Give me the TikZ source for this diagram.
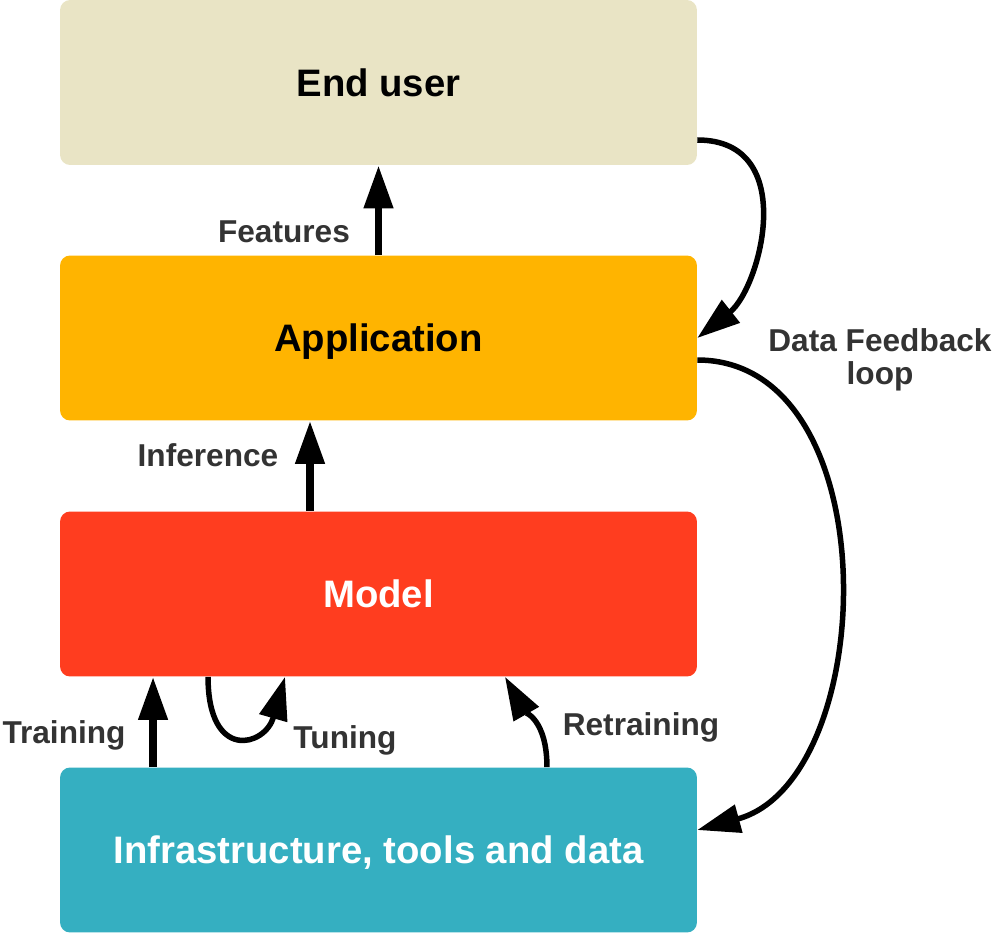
\documentclass[tikz,border=0pt]{standalone}
\usepackage{fontspec}
\setmainfont{Liberation Sans}
\usetikzlibrary{arrows.meta}
\definecolor{cUser}{HTML}{E9E4C5}
\definecolor{cApp}{HTML}{FFB400}
\definecolor{cModel}{HTML}{FF3D1F}
\definecolor{cInfra}{HTML}{35AFC1}
\definecolor{cLabel}{HTML}{333333}
\begin{document}
\begin{tikzpicture}[x=0.02cm,y=-0.02cm,
  layer/.style={rectangle, rounded corners=0.2cm, minimum width=12.74cm, minimum height=3.3cm, inner sep=0pt, text height=15.6pt, text depth=0pt, font=\fontsize{21.8}{24}\selectfont\bfseries, text=black},
  elabel/.style={font=\fontsize{18}{19}\selectfont\bfseries, text=cLabel, inner sep=0pt},
  flow/.style={line width=0.15cm, -{Triangle[length=0.86cm,width=0.56cm]}},
  loopflow/.style={line width=0.11cm, -{Triangle[length=0.86cm,width=0.56cm]}}
]
\useasboundingbox (0,0) rectangle (1000,933);
\node[layer, fill=cUser] (eu) at (378.5,82.5) {End user};
\node[layer, fill=cApp] (app) at (378.5,338) {Application};
\node[layer, fill=cModel, text=white] (mod) at (378.5,594) {Model};
\node[layer, fill=cInfra, text=white] (inf) at (378.5,850) {Infrastructure, tools and data};

\draw[flow] (app.north) -- (eu.south);
\draw[flow] ([xshift=-1.37cm]mod.north) -- ([xshift=-1.37cm]app.south);
\draw[flow] ([xshift=-4.51cm]inf.north) -- ([xshift=-4.51cm]mod.south);
\draw[loopflow] ([xshift=-3.41cm]mod.south) .. controls +(0,-1.7cm) and +(-0.4cm,-1.4cm) .. ([xshift=-1.87cm]mod.south);
\draw[loopflow] ([xshift=3.37cm]inf.north) .. controls +(0,0.95cm) and +(0.4cm,-0.7cm) .. ([xshift=2.53cm]mod.south);
\draw[loopflow] ([yshift=-1.15cm]eu.east) .. controls +(2.06cm,0) and +(1.26cm,1.0cm) .. ([yshift=0cm]app.east);
\draw[loopflow] ([yshift=-0.44cm]app.east) .. controls +(3.86cm,0) and +(3.66cm,1.0cm) .. ([yshift=0.4cm]inf.east);

\node[elabel] (lf) at (284,232) {Features};
\node[elabel] (li) at (208,455) {Inference};
\node[elabel] (lt) at (64,735) {Training};
\node[elabel] (ltu) at (345,740) {Tuning};
\node[elabel] (lr) at (641,727) {Retraining};
\node[elabel, align=center] (ld) at (880,360) {Data Feedback\\loop};
\end{tikzpicture}
\end{document}
